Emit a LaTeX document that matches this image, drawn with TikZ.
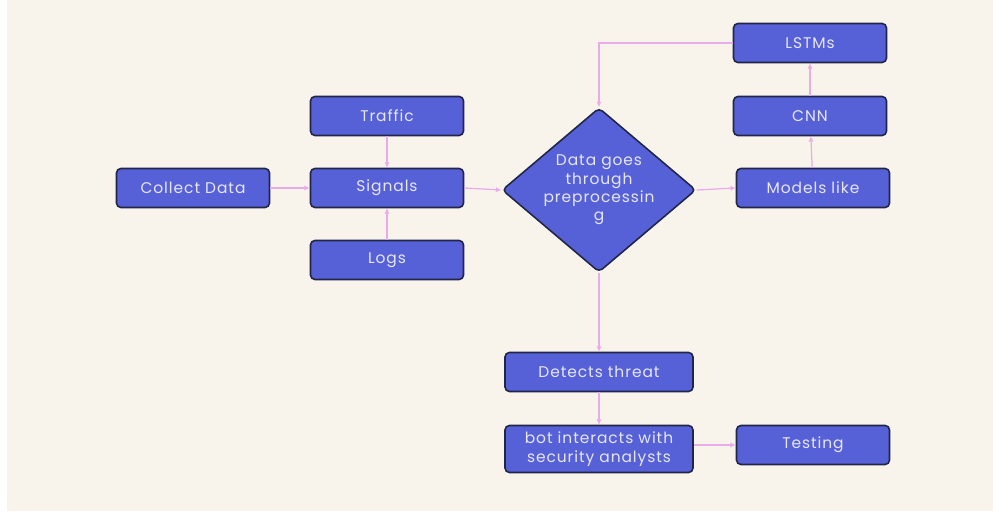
\documentclass[tikz,border=0pt]{standalone}
\usepackage{fontspec}
\setmainfont{Poppins}[LetterSpace=6]
\usepackage{tikz}
\usetikzlibrary{arrows.meta,positioning,shapes.geometric,calc}
\definecolor{paperbg}{RGB}{248,244,235}
\definecolor{boxblue}{RGB}{86,97,216}
\definecolor{boxedge}{RGB}{33,37,72}
\definecolor{boxtext}{RGB}{230,230,246}
\definecolor{flowpink}{RGB}{234,172,232}

\tikzset{
  stepbox/.style={draw=boxedge, line width=0.9pt, fill=boxblue, rounded corners=2.5pt,
    minimum width=3.06cm, minimum height=0.78cm, inner sep=1pt,
    text=boxtext, font=\fontsize{8.8}{10.5}\selectfont, align=center},
  decide/.style={diamond, aspect=1.18, draw=boxedge, line width=0.9pt, fill=boxblue, rounded corners=2.5pt,
    minimum width=3.74cm, minimum height=3.16cm, inner sep=0pt,
    text=boxtext, font=\fontsize{8.8}{10.5}\selectfont, align=center},
  flow/.style={->, flowpink, line width=0.7pt}
}

\begin{document}
\begin{tikzpicture}[x=0.02cm, y=-0.02cm, >={Latex[length=3pt,width=3pt]}]

% 1. Background
\useasboundingbox (0,0) rectangle (993,519);
\fill[white] (0,0) rectangle (993,519);
\fill[paperbg] (7,0) rectangle (993,511);

% 2. Input side
\node[stepbox] (collect) at (193,188) {Collect Data};
\node[stepbox] (traffic) at (387,116) {Traffic};
\node[stepbox] (signals) at (387,188) {Signals};
\node[stepbox] (logs)    at (387,260) {Logs};

% 3. Preprocessing decision
\node[decide] (prep) at (599,190) {Data goes\\through\\preprocessin\\g};

% 4. Model column
\node[stepbox] (models) at (813,188) {Models like};
\node[stepbox] (cnn)    at (810,116) {CNN};
\node[stepbox] (lstms)  at (810,43)  {LSTMs};

% 5. Output side
\node[stepbox, minimum width=3.76cm] (detect) at (599,372) {Detects threat};
\node[stepbox, minimum width=3.76cm, minimum height=0.94cm] (bot) at (599,449) {bot interacts with\\security analysts};
\node[stepbox] (testing) at (813,445) {Testing};

% 6. Connectors
\draw[flow] (collect) -- (signals);
\draw[flow] (traffic) -- (signals);
\draw[flow] (logs) -- (signals);
\draw[flow] (signals.east) -- (prep.west);
\draw[flow] (prep.east) -- (models.west);
\draw[flow] (models) -- (cnn);
\draw[flow] (cnn) -- (lstms);
\draw[flow] (lstms.west) -| (prep.north);
\draw[flow] (prep.south) -- (detect.north);
\draw[flow] (detect) -- (bot);
\draw[flow] (bot.east |- testing.west) -- (testing.west);

\end{tikzpicture}
\end{document}
